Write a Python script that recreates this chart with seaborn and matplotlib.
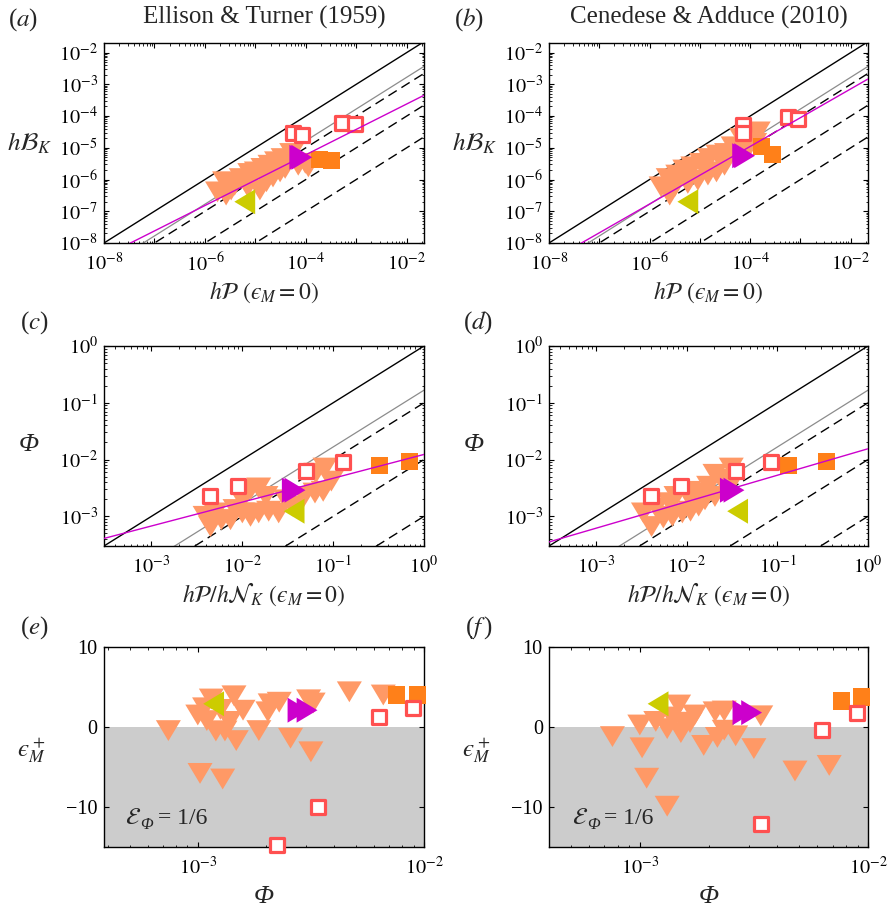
import numpy as np
import matplotlib
matplotlib.use('Agg')
import matplotlib.pyplot as plt
import seaborn as sns
from matplotlib import ticker
from matplotlib.path import Path

# ---- data (log10 values for log axes) ----
# panel (a): Ellison & Turner, hP vs hB_K
a_tri_x = [-5.75, -5.58, -5.61, -5.41, -5.28, -5.11, -4.98, -4.85, -4.71, -4.58, -4.45, -4.35,
           -4.91, -4.65, -4.51, -4.15, -4.01, -3.95, -5.15, -4.78, -5.48, -4.28, -4.41]
a_tri_y = [-6.39, -6.49, -6.07, -6.18, -5.97, -5.81, -5.76, -5.65, -5.55, -5.44, -5.34, -5.39,
           -6.33, -5.92, -5.76, -5.55, -5.49, -5.60, -6.23, -6.07, -6.33, -5.18, -5.65]
a_open_x = [-4.25, -4.08, -3.28, -3.03]
a_open_y = [-4.55, -4.60, -4.21, -4.26]
a_sq_x = [-3.72, -3.50]
a_sq_y = [-5.37, -5.41]
a_mag_x = [-4.12, -4.08]
a_mag_y = [-5.30, -5.30]
a_oli_x = [-5.21]
a_oli_y = [-6.70]

# panel (b): Cenedese & Adduce, hP vs hB_K
b_tri_x = [-5.77, -5.63, -5.60, -5.44, -5.30, -5.14, -4.97, -4.81, -4.64, -4.47, -4.34, -4.17,
           -3.98, -3.84, -5.24, -5.04, -4.84, -4.67, -4.51, -3.91, -5.50, -4.04]
b_tri_y = [-6.23, -5.97, -6.49, -5.86, -5.70, -5.60, -5.49, -5.34, -5.23, -5.18, -4.97, -4.71,
           -4.60, -4.50, -6.12, -6.02, -5.86, -5.76, -5.55, -4.86, -6.23, -5.02]
b_open_x = [-4.14, -4.14, -3.25, -3.05]
b_open_y = [-4.29, -4.55, -4.03, -4.08]
b_sq_x = [-3.78, -3.56]
b_sq_y = [-4.95, -5.20]
b_mag_x = [-4.15, -4.11]
b_mag_y = [-5.25, -5.25]
b_oli_x = [-5.24]
b_oli_y = [-6.70]

# panel (c): hP/hN_K vs Phi
c_tri_x = [-2.41, -2.35, -2.23, -2.13, -2.00, -1.91, -1.82, -1.71, -1.60, -1.91, -1.82, -1.74,
           -1.52, -1.32, -1.20, -1.11, -1.02, -1.09, -1.19, -2.08, -2.30, -1.45, -2.00]
c_tri_y = [-3.00, -3.18, -3.06, -3.06, -2.94, -3.00, -2.94, -2.91, -2.94, -2.53, -2.50, -2.65,
           -2.71, -2.65, -2.59, -2.56, -2.38, -2.15, -2.24, -2.88, -2.94, -2.82, -2.71]
c_open_x = [-2.36, -2.05, -1.30, -0.89]
c_open_y = [-2.65, -2.47, -2.21, -2.05]
c_sq_x = [-0.49, -0.16]
c_sq_y = [-2.10, -2.04]
c_mag_x = [-1.45, -1.42]
c_mag_y = [-2.54, -2.54]
c_oli_x = [-1.43]
c_oli_y = [-2.91]

# panel (d)
d_tri_x = [-2.39, -2.48, -2.26, -2.16, -2.05, -1.96, -1.87, -1.80, -1.69, -1.62, -1.69, -1.51,
           -2.12, -1.98, -1.87, -2.19, -2.34, -1.76, -1.55, -1.94]
d_tri_y = [-3.18, -2.94, -3.03, -3.00, -2.94, -2.91, -2.82, -2.71, -2.65, -2.35, -2.26, -2.15,
           -2.65, -2.56, -2.59, -2.76, -2.85, -2.47, -2.53, -2.76]
d_open_x = [-2.40, -2.07, -1.455, -1.07]
d_open_y = [-2.635, -2.47, -2.21, -2.05]
d_sq_x = [-0.88, -0.46]
d_sq_y = [-2.11, -2.04]
d_mag_x = [-1.52, -1.48]
d_mag_y = [-2.54, -2.54]
d_oli_x = [-1.44]
d_oli_y = [-2.91]

# panel (e): log10 Phi vs eps_M^+
e_tri_x = [-3.13, -2.99, -2.89, -2.83, -2.73, -2.59, -2.50, -2.84, -2.94, -3.00, -2.96, -2.92,
           -2.88, -2.80, -2.86, -2.68, -2.64, -2.51, -2.49, -2.69, -2.33, -2.18, -2.90, -2.97]
e_tri_y = [-0.45, -5.8, -6.5, -1.7, -0.45, -1.4, -3.1, 3.9, 3.5, 1.5, 0.8, -0.5,
           -0.5, 2.1, 0.7, 2.9, 3.1, 3.4, 3.0, 1.9, 4.4, 4.0, 2.2, 2.4]
e_open_x = [-2.65, -2.47, -2.20, -2.05]
e_open_y = [-14.7, -10.0, 1.2, 2.4]
e_sq_x = [-2.12, -2.03]
e_sq_y = [4.0, 4.0]
e_mag_x = [-2.557, -2.517]
e_mag_y = [2.1, 2.1]
e_oli_x = [-2.93]
e_oli_y = [2.9]

# panel (f)
f_tri_x = [-3.12, -2.99, -2.97, -2.88, -2.72, -2.66, -2.58, -2.50, -2.83, -3.00, -2.93, -2.88,
           -2.81, -2.78, -2.82, -2.67, -2.63, -2.47, -2.63, -2.86, -2.32, -2.17, -2.76]
f_tri_y = [-1.2, -2.6, -6.4, -9.9, -2.3, -1.3, -1.1, -2.7, 2.75, 0.25, 0.7, -0.2,
           0.6, 0.55, -0.7, 1.9, 2.0, 1.4, -0.4, 1.25, -5.5, -4.8, 1.5]
f_open_x = [-2.47, -2.20, -2.05]
f_open_y = [-12.1, -0.4, 1.75]
f_sq_x = [-2.115, -2.03]
f_sq_y = [3.25, 3.75]
f_mag_x = [-2.548, -2.51]
f_mag_y = [1.8, 1.8]
f_oli_x = [-2.92]
f_oli_y = [2.9]

# fitted magenta power laws: (log10 prefactor, exponent)
mag_fit = {'a': (-2.02, 0.80), 'b': (-1.33, 0.907), 'c': (-1.91, 0.42), 'd': (-1.81, 0.466)}
# reference lines y = r * x
ref_ratios = [1.0, 1 / 6, 1 / 10, 1 / 100, 1 / 1000]

titles = ['Ellison & Turner (1959)', 'Cenedese & Adduce (2010)']

SALMON = '#FF9966'
RED = '#FF5050'
ORANGE = '#FF8019'
MAGENTA = '#CC00CC'
OLIVE = '#CCCC00'

TRI_DOWN = Path([(-1.2, 1), (1.2, 1), (0, -1), (-1.2, 1)], closed=True)
TRI_RIGHT = Path([(-1, 1.2), (-1, -1.2), (1, 0), (-1, 1.2)], closed=True)
TRI_LEFT = Path([(1, 1.2), (1, -1.2), (-1, 0), (1, 1.2)], closed=True)

sns.set_style('ticks')
plt.rcParams['font.family'] = ['Liberation Serif', 'DejaVu Serif']
plt.rcParams['mathtext.fontset'] = 'stix'
plt.rcParams['axes.edgecolor'] = 'black'
plt.rcParams['axes.linewidth'] = 1.0
plt.rcParams['xtick.color'] = 'black'
plt.rcParams['ytick.color'] = 'black'
plt.rcParams['xtick.direction'] = 'in'
plt.rcParams['ytick.direction'] = 'in'
plt.rcParams['xtick.top'] = True
plt.rcParams['ytick.right'] = True
plt.rcParams['xtick.major.size'] = 3.6
plt.rcParams['ytick.major.size'] = 3.6
plt.rcParams['xtick.minor.size'] = 1.8
plt.rcParams['ytick.minor.size'] = 1.8
plt.rcParams['xtick.major.width'] = 0.8
plt.rcParams['ytick.major.width'] = 0.8
plt.rcParams['xtick.minor.width'] = 0.6
plt.rcParams['ytick.minor.width'] = 0.6
plt.rcParams['xtick.major.pad'] = 7
plt.rcParams['ytick.major.pad'] = 4.5
plt.rcParams['xtick.labelsize'] = 14.5
plt.rcParams['ytick.labelsize'] = 14.5

EPS = 'ϵ'  # lunate epsilon


def pow_fmt(step):
    def f(v, pos):
        e = int(round(np.log10(v)))
        if e % step:
            return ''
        return r'$10^{%d}$' % e
    return ticker.FuncFormatter(f)


def log_axis(axis, step):
    axis.set_major_locator(ticker.LogLocator(base=10, numticks=50))
    axis.set_minor_locator(ticker.LogLocator(base=10, subs=np.arange(2, 10), numticks=50))
    axis.set_major_formatter(pow_fmt(step))
    axis.set_minor_formatter(ticker.NullFormatter())


def markers(ax, tx, ty, ox, oy, sx, sy, mx, my, lx, ly, logy=True):
    conv_y = (lambda v: 10.0 ** np.asarray(v)) if logy else np.asarray
    conv_x = lambda v: 10.0 ** np.asarray(v)
    clip = logy
    sns.scatterplot(x=conv_x(tx), y=conv_y(ty), ax=ax, marker=TRI_DOWN, s=324, color=SALMON,
                    edgecolor='none', linewidth=0, zorder=3, legend=False, clip_on=clip)
    sns.scatterplot(x=conv_x(sx), y=conv_y(sy), ax=ax, marker='s', s=150, color=ORANGE,
                    edgecolor='none', linewidth=0, zorder=4, legend=False, clip_on=clip)
    sns.scatterplot(x=conv_x(ox), y=conv_y(oy), ax=ax, marker='s', s=88, color='white',
                    edgecolor=RED, linewidth=2.3, zorder=4, legend=False, clip_on=clip)
    sns.scatterplot(x=conv_x(lx), y=conv_y(ly), ax=ax, marker=TRI_LEFT, s=324, color=OLIVE,
                    edgecolor='none', linewidth=0, zorder=4, legend=False, clip_on=clip)
    sns.scatterplot(x=conv_x(mx), y=conv_y(my), ax=ax, marker=TRI_RIGHT, s=324, color=MAGENTA,
                    edgecolor='none', linewidth=0, zorder=4, legend=False, clip_on=clip)


def lines(ax, lo, hi, key):
    xs = np.array([lo, hi])
    styles = [dict(color='black', lw=1.0, ls='-'),
              dict(color='0.55', lw=0.9, ls='-'),
              dict(color='black', lw=1.0, ls=(0, (7, 4))),
              dict(color='black', lw=1.0, ls=(0, (7, 4))),
              dict(color='black', lw=1.0, ls=(0, (7, 4)))]
    for r, st in zip(ref_ratios, styles):
        ax.plot(xs, r * xs, color=st['color'], lw=st['lw'], ls=st['ls'], zorder=2)
    pre, ex = mag_fit[key]
    xm = np.geomspace(lo, hi, 50)
    sns.lineplot(x=xm, y=10 ** pre * xm ** ex, ax=ax, color=MAGENTA, linewidth=1.0,
                 zorder=5, estimator=None, sort=False)


fig = plt.figure(figsize=(8.89, 9.11), dpi=100)
W, H = 889, 911
cols = [(104, 424), (549, 868)]
rows = [(43, 243), (346, 546), (647, 847)]
axes = {}
keys = [['a', 'b'], ['c', 'd'], ['e', 'f']]
for i, (t, b) in enumerate(rows):
    for j, (l, r) in enumerate(cols):
        axes[keys[i][j]] = fig.add_axes([l / W, 1 - b / H, (r - l) / W, (b - t) / H])

data = {
    'a': (a_tri_x, a_tri_y, a_open_x, a_open_y, a_sq_x, a_sq_y, a_mag_x, a_mag_y, a_oli_x, a_oli_y),
    'b': (b_tri_x, b_tri_y, b_open_x, b_open_y, b_sq_x, b_sq_y, b_mag_x, b_mag_y, b_oli_x, b_oli_y),
    'c': (c_tri_x, c_tri_y, c_open_x, c_open_y, c_sq_x, c_sq_y, c_mag_x, c_mag_y, c_oli_x, c_oli_y),
    'd': (d_tri_x, d_tri_y, d_open_x, d_open_y, d_sq_x, d_sq_y, d_mag_x, d_mag_y, d_oli_x, d_oli_y),
    'e': (e_tri_x, e_tri_y, e_open_x, e_open_y, e_sq_x, e_sq_y, e_mag_x, e_mag_y, e_oli_x, e_oli_y),
    'f': (f_tri_x, f_tri_y, f_open_x, f_open_y, f_sq_x, f_sq_y, f_mag_x, f_mag_y, f_oli_x, f_oli_y),
}

# top row
for k, title in zip(['a', 'b'], titles):
    ax = axes[k]
    ax.set_xscale('log')
    ax.set_yscale('log')
    lines(ax, 1e-8, 2.2e-2, k)
    markers(ax, *data[k])
    ax.set_xlim(1e-8, 2.2e-2)
    ax.set_ylim(1e-8, 2e-2)
    log_axis(ax.xaxis, 2)
    log_axis(ax.yaxis, 1)
    ax.set_xlabel(r'$h\mathcal{P}\ (%s_M = 0)$' % EPS, fontsize=17, va='center')
    ax.xaxis.set_label_coords(0.5, -0.245)
    ax.set_ylabel(r'$h\mathcal{B}_K$', fontsize=18, rotation=0, ha='center', va='center')
    ax.yaxis.set_label_coords(-0.232, 0.5)
    ax.text(0.5, 1.13, title, transform=ax.transAxes, ha='center', va='center', fontsize=18)

# middle row
for k in ['c', 'd']:
    ax = axes[k]
    ax.set_xscale('log')
    ax.set_yscale('log')
    lines(ax, 3e-4, 1.0, k)
    markers(ax, *data[k])
    ax.set_xlim(3e-4, 1.0)
    ax.set_ylim(3e-4, 1.0)
    log_axis(ax.xaxis, 1)
    log_axis(ax.yaxis, 1)
    ax.set_xlabel(r'$h\mathcal{P}/h\mathcal{N}_K\ (%s_M = 0)$' % EPS, fontsize=17, va='center')
    ax.xaxis.set_label_coords(0.5, -0.24)
    ax.set_ylabel('Φ', fontsize=19, style='italic', rotation=0, ha='center', va='center')
    ax.yaxis.set_label_coords(-0.235, 0.505)

# bottom row
for k, lo in zip(['e', 'f'], [3.85e-4, 4e-4]):
    ax = axes[k]
    ax.set_xscale('log')
    ax.axhspan(-15, 0, color='#CCCCCC', zorder=0, lw=0)
    markers(ax, *data[k], logy=False)
    ax.set_xlim(lo, 1e-2)
    ax.set_ylim(-15, 10)
    log_axis(ax.xaxis, 1)
    ax.yaxis.set_major_locator(ticker.FixedLocator([-10, 0, 10]))
    ax.yaxis.set_minor_locator(ticker.NullLocator())
    ax.set_xlabel('Φ', fontsize=19, style='italic', va='center')
    ax.xaxis.set_label_coords(0.5, -0.25)
    ax.set_ylabel(r'$%s_M^+$' % EPS, fontsize=18, rotation=0, ha='center', va='center')
    ax.yaxis.set_label_coords(-0.228, 0.485)
    tx = 0.066 if k == 'e' else 0.071
    ax.text(tx, 0.143, r'$\mathcal{E}$', transform=ax.transAxes, fontsize=17, va='center', zorder=6)
    ax.annotate('Φ', xy=(tx, 0.143), xycoords='axes fraction', xytext=(11, -4.5),
                textcoords='offset points', fontsize=12, style='italic', va='center', zorder=6)
    ax.annotate('= 1/6', xy=(tx, 0.143), xycoords='axes fraction', xytext=(23.5, 0),
                textcoords='offset points', fontsize=17, va='center', zorder=6)

# panel letters
letter_pos = {'a': (-0.253, 1.115), 'b': (-0.25, 1.115), 'c': (-0.219, 1.115),
              'd': (-0.224, 1.115), 'e': (-0.219, 1.095), 'f': (-0.22, 1.095)}
for k, (x, y) in letter_pos.items():
    lab = r'($f\,$)' if k == 'f' else '($%s$)' % k
    axes[k].text(x, y, lab, transform=axes[k].transAxes, ha='center', va='center', fontsize=18)

fig.savefig('out.png', dpi=100)
